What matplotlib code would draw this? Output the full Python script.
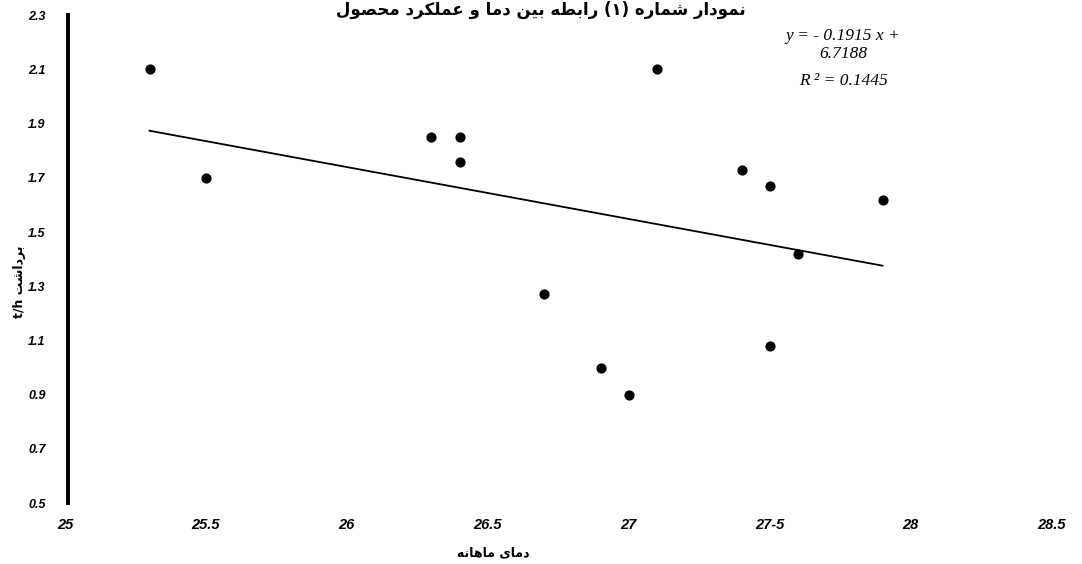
import numpy as np
import matplotlib
matplotlib.use("Agg")
import matplotlib.pyplot as plt

# monthly temperature vs harvest (t/h)
temp = [25.3, 25.5, 26.3, 26.4, 26.4, 26.7, 26.9, 27.0, 27.1, 27.4, 27.5, 27.5, 27.6, 27.9]
harvest = [2.10, 1.70, 1.85, 1.85, 1.76, 1.27, 1.00, 0.90, 2.10, 1.73, 1.67, 1.08, 1.42, 1.62]

slope = -0.1915
intercept = 6.7188
r2 = 0.1445

x_ticks = [25, 25.5, 26, 26.5, 27, 27.5, 28, 28.5]
x_ticklabels = ["25", "25.5", "26", "26.5", "27", "27-5", "28", "28.5"]
y_ticks = [0.5, 0.7, 0.9, 1.1, 1.3, 1.5, 1.7, 1.9, 2.1, 2.3]

title_fa = "نمودار شماره (۱) رابطه بین دما و عملکرد محصول"
xlabel_fa = "دمای ماهانه"
ylabel_fa = "برداشت t/h"

# presentation forms: isolated, final, initial, medial
FORMS = {
    'ا': ('\uFE8D', '\uFE8E', None, None),
    'ب': ('\uFE8F', '\uFE90', '\uFE91', '\uFE92'),
    'ت': ('\uFE95', '\uFE96', '\uFE97', '\uFE98'),
    'ح': ('\uFEA1', '\uFEA2', '\uFEA3', '\uFEA4'),
    'د': ('\uFEA9', '\uFEAA', None, None),
    'ر': ('\uFEAD', '\uFEAE', None, None),
    'ش': ('\uFEB5', '\uFEB6', '\uFEB7', '\uFEB8'),
    'ص': ('\uFEB9', '\uFEBA', '\uFEBB', '\uFEBC'),
    'ط': ('\uFEC1', '\uFEC2', '\uFEC3', '\uFEC4'),
    'ع': ('\uFEC9', '\uFECA', '\uFECB', '\uFECC'),
    'ل': ('\uFEDD', '\uFEDE', '\uFEDF', '\uFEE0'),
    'م': ('\uFEE1', '\uFEE2', '\uFEE3', '\uFEE4'),
    'ن': ('\uFEE5', '\uFEE6', '\uFEE7', '\uFEE8'),
    'ه': ('\uFEE9', '\uFEEA', '\uFEEB', '\uFEEC'),
    'و': ('\uFEED', '\uFEEE', None, None),
    'ی': ('\uFBFC', '\uFBFD', '\uFBFE', '\uFBFF'),
    'ک': ('\uFB8E', '\uFB8F', '\uFB90', '\uFB91'),
}
MIRROR = {'(': ')', ')': '('}


def shape_word(word):
    if not any(c in FORMS for c in word):
        return word
    out = []
    for i, c in enumerate(word):
        if c not in FORMS:
            out.append(MIRROR.get(c, c))
            continue
        iso, fin, ini, med = FORMS[c]
        prev = word[i - 1] if i > 0 else None
        nxt = word[i + 1] if i + 1 < len(word) else None
        jp = prev in FORMS and FORMS[prev][2] is not None
        jn = ini is not None and nxt in FORMS
        out.append(med if jp and jn else fin if jp else ini if jn else iso)
    return "".join(reversed(out))


def rtl(text):
    # word order right-to-left, each word shaped
    return " ".join(shape_word(w) for w in reversed(text.split(" ")))


xtick_font = dict(family="Liberation Sans", weight="bold", style="italic", size=10.5)
ytick_font = dict(family="Liberation Sans", weight="bold", style="italic", size=9)
eq_font = dict(family="Liberation Serif", style="italic", size=12.5)

fig = plt.figure(figsize=(10.82, 5.64), dpi=100)
ax = fig.add_axes([0.060, 0.108, 0.912, 0.865])

# spines first: set_position resets the ticks
for s in ["top", "right", "bottom"]:
    ax.spines[s].set_visible(False)
ax.spines["left"].set_linewidth(2.8)
ax.spines["left"].set_position(("data", 25.01))

ax.scatter(temp, harvest, s=40, color="black", zorder=3)
xl = np.array([min(temp), max(temp)])
ax.plot(xl, slope * xl + intercept, color="black", lw=1.3)

ax.set_xlim(25, 28.5)
ax.set_ylim(0.5, 2.3)
ax.set_xticks(x_ticks)
ax.set_xticklabels(x_ticklabels, fontdict=xtick_font)
ax.set_yticks(y_ticks)
ax.set_yticklabels([f"{v:.1f}" for v in y_ticks], fontdict=ytick_font)
ax.tick_params(axis="both", length=0)
ax.tick_params(axis="x", pad=11)
ax.tick_params(axis="y", pad=16)

ax.text(27.76, 2.225, "y = - 0.1915 x +", ha="center", va="center", **eq_font)
ax.text(27.76, 2.158, "6.7188", ha="center", va="center", **eq_font)
ax.text(27.76, 2.058, f"R ² = {r2}", ha="center", va="center", **eq_font)

fig.text(0.5, 0.998, rtl(title_fa), family="DejaVu Sans", weight="bold",
         fontsize=12, ha="center", va="top")
fig.text(0.456, 0.02, rtl(xlabel_fa), family="DejaVu Sans", weight="bold",
         fontsize=9, ha="center", va="center")
fig.text(0.018, 0.50, rtl(ylabel_fa), family="DejaVu Sans", weight="bold",
         fontsize=9, ha="center", va="center", rotation=90)

fig.savefig("out.png", dpi=100, facecolor="white")
